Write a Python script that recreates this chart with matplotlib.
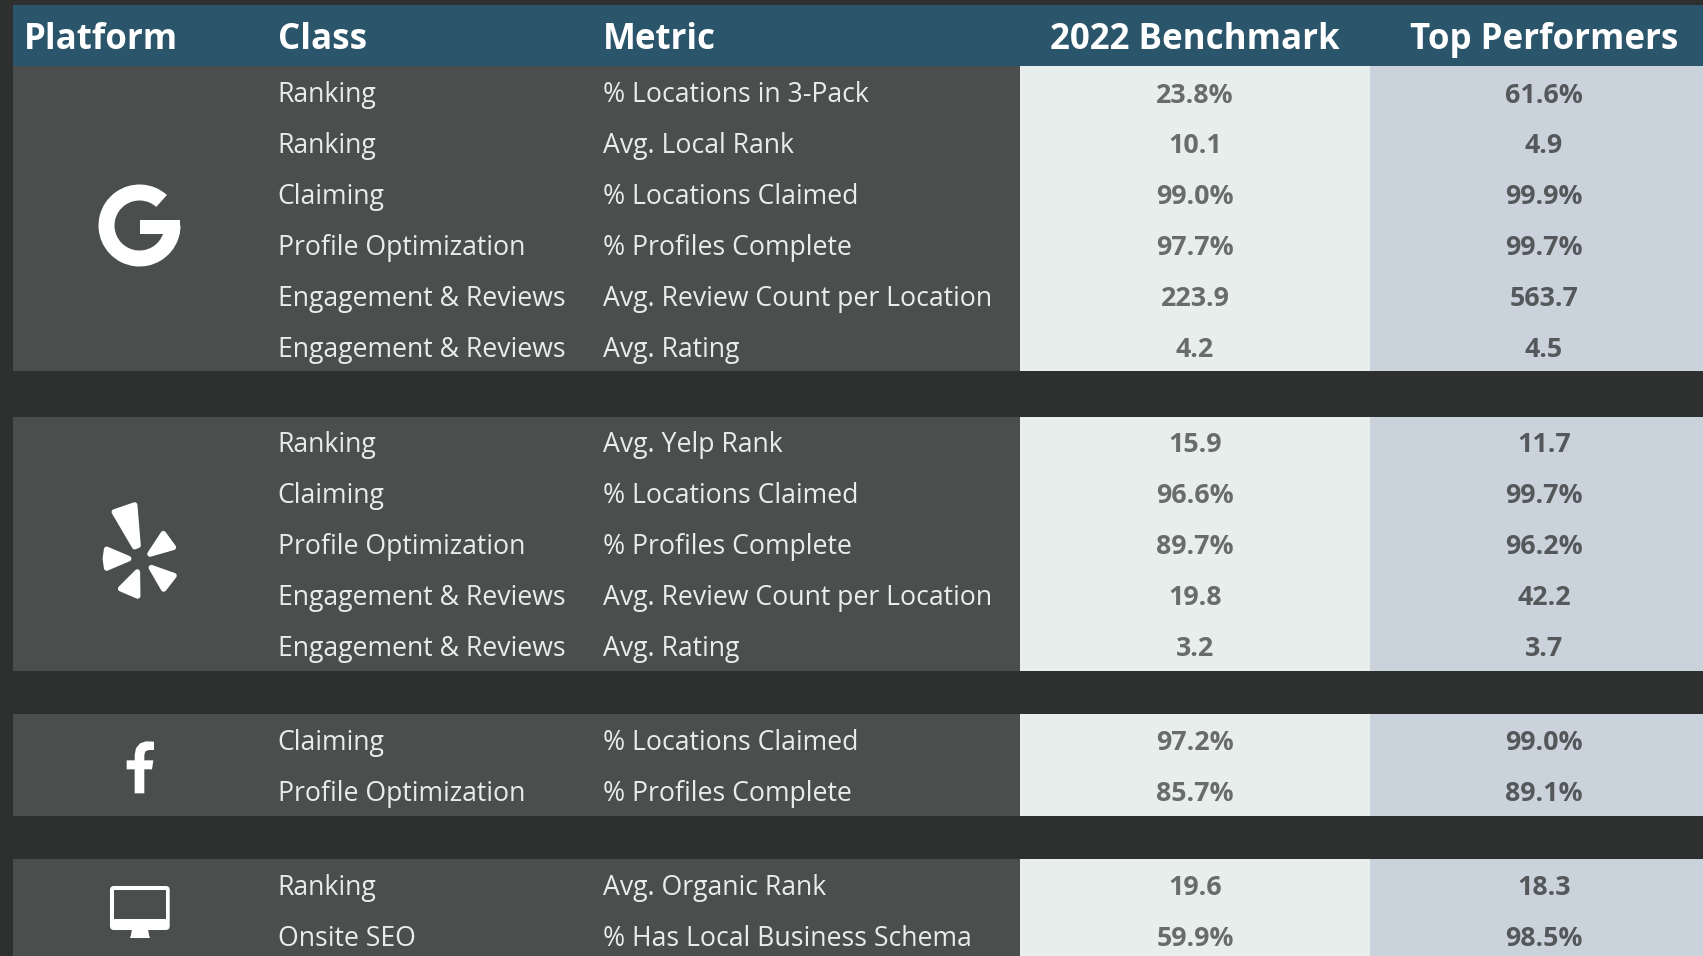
import matplotlib
matplotlib.use('Agg')
import matplotlib.pyplot as plt
from matplotlib.patches import Rectangle, Wedge, Polygon, FancyBboxPatch

plt.rcParams['font.family'] = ['Open Sans', 'DejaVu Sans']

headers = ['Platform', 'Class', 'Metric', '2022 Benchmark', 'Top Performers']

google_class = ['Ranking', 'Ranking', 'Claiming', 'Profile Optimization', 'Engagement & Reviews', 'Engagement & Reviews']
google_metric = ['% Locations in 3-Pack', 'Avg. Local Rank', '% Locations Claimed', '% Profiles Complete',
                 'Avg. Review Count per Location', 'Avg. Rating']
google_bench = ['23.8%', '10.1', '99.0%', '97.7%', '223.9', '4.2']
google_top = ['61.6%', '4.9', '99.9%', '99.7%', '563.7', '4.5']

yelp_class = ['Ranking', 'Claiming', 'Profile Optimization', 'Engagement & Reviews', 'Engagement & Reviews']
yelp_metric = ['Avg. Yelp Rank', '% Locations Claimed', '% Profiles Complete', 'Avg. Review Count per Location', 'Avg. Rating']
yelp_bench = ['15.9', '96.6%', '89.7%', '19.8', '3.2']
yelp_top = ['11.7', '99.7%', '96.2%', '42.2', '3.7']

fb_class = ['Claiming', 'Profile Optimization']
fb_metric = ['% Locations Claimed', '% Profiles Complete']
fb_bench = ['97.2%', '85.7%']
fb_top = ['99.0%', '89.1%']

web_class = ['Ranking', 'Onsite SEO']
web_metric = ['Avg. Organic Rank', '% Has Local Business Schema']
web_bench = ['19.6', '59.9%']
web_top = ['18.3', '98.5%']

BG = '#2e302f'
PANEL = '#4a4e4d'
HEAD = '#2b556b'
CELL1 = '#e7eeeb'
CELL2 = '#cad2db'
LIGHT = '#e9edea'
WHITE = '#ffffff'

W, H = 1703, 956
fig = plt.figure(figsize=(W / 100, H / 100), dpi=100, facecolor=BG)
ax = fig.add_axes([0, 0, 1, 1])
ax.set_xlim(0, W)
ax.set_ylim(H, 0)
ax.axis('off')

X_CLASS = 277.5
X_METRIC = 603
X_B = 1020
X_T = 1369.5
FS = 19.2
FS_VAL = 19.3
FS_HEAD = 25.1


def group(top, bottom, first_y, step, classes, metrics, bench, best):
    ax.add_patch(Rectangle((13, top), X_B - 13, bottom - top, color=PANEL, lw=0))
    ax.add_patch(Rectangle((X_B, top), X_T - X_B, bottom - top, color=CELL1, lw=0))
    ax.add_patch(Rectangle((X_T, top), W - X_T, bottom - top, color=CELL2, lw=0))
    for i in range(len(classes)):
        y = first_y + i * step
        ax.text(X_CLASS, y - 0.8, classes[i], color=LIGHT, fontsize=FS, va='center_baseline')
        ax.text(X_METRIC, y - 0.8, metrics[i], color=LIGHT, fontsize=FS, va='center_baseline')
        ax.text(1195, y, bench[i], color='#686c6b', fontsize=FS_VAL, weight='bold', ha='center', va='center_baseline')
        ax.text(1544, y, best[i], color='#54585a', fontsize=FS_VAL, weight='bold', ha='center', va='center_baseline')


# header
ax.add_patch(Rectangle((13, 5), W - 13, 61, color=HEAD, lw=0))
ax.text(24, 35.5, headers[0], color=WHITE, fontsize=FS_HEAD, weight='bold', va='center_baseline')
ax.text(X_CLASS, 35.5, headers[1], color=WHITE, fontsize=FS_HEAD, weight='bold', va='center_baseline')
ax.text(X_METRIC, 35.5, headers[2], color=WHITE, fontsize=FS_HEAD, weight='bold', va='center_baseline')
ax.text(1195, 35.5, headers[3], color=WHITE, fontsize=FS_HEAD, weight='bold', ha='center', va='center_baseline')
ax.text(1544, 35.5, headers[4], color=WHITE, fontsize=FS_HEAD, weight='bold', ha='center', va='center_baseline')

group(66, 371, 92.5, 50.9, google_class, google_metric, google_bench, google_top)
group(417, 671, 442, 51, yelp_class, yelp_metric, yelp_bench, yelp_top)
group(714, 816, 740, 51, fb_class, fb_metric, fb_bench, fb_top)
group(859, 956, 885, 51, web_class, web_metric, web_bench, web_top)

# google icon
ax.add_patch(Wedge((139.5, 225.5), 41, 0, 312, width=16, color=WHITE, lw=0))
ax.add_patch(Rectangle((139.5, 220), 40.3, 14, color=WHITE, lw=0))

# yelp icon, traced in zoom pixels
yelp_petals = [
    [(163, 126), (224, 105), (234, 226), (224, 230)],
    [(310, 191), (340, 232), (270, 252)],
    [(140, 238), (206, 266), (140, 294), (136, 266)],
    [(232, 306), (233, 378), (182, 356)],
    [(274, 293), (342, 317), (311, 357)],
]
for petal in yelp_petals:
    pts = [(60 + px / 3, 470 + py / 3) for px, py in petal]
    ax.add_patch(Polygon(pts, closed=True, fc=WHITE, ec=WHITE, lw=4, joinstyle='round'))

# facebook icon
fb_pts = [(224, 280), (224, 208), (200, 208), (200, 181), (224, 181), (224, 165), (228, 145), (240, 130), (258, 124),
          (282, 125), (282, 150), (266, 150), (256, 154), (253, 165), (253, 181), (280, 181), (276, 208), (253, 208),
          (253, 280)]
ax.add_patch(Polygon([(60 + px / 3, 700 + py / 3) for px, py in fb_pts], closed=True, color=WHITE, lw=0))

# desktop icon
ax.add_patch(FancyBboxPatch((110, 886), 59.7, 44, boxstyle='round,pad=0,rounding_size=4', fc=WHITE, ec='none'))
ax.add_patch(Rectangle((114, 890), 52, 28.5, color=PANEL, lw=0))
stand = [(132, 929), (148, 929), (149, 935), (150, 938), (130, 938), (131, 935)]
ax.add_patch(Polygon(stand, closed=True, color=WHITE, lw=0))

fig.savefig('out.png', dpi=100, facecolor=BG)
